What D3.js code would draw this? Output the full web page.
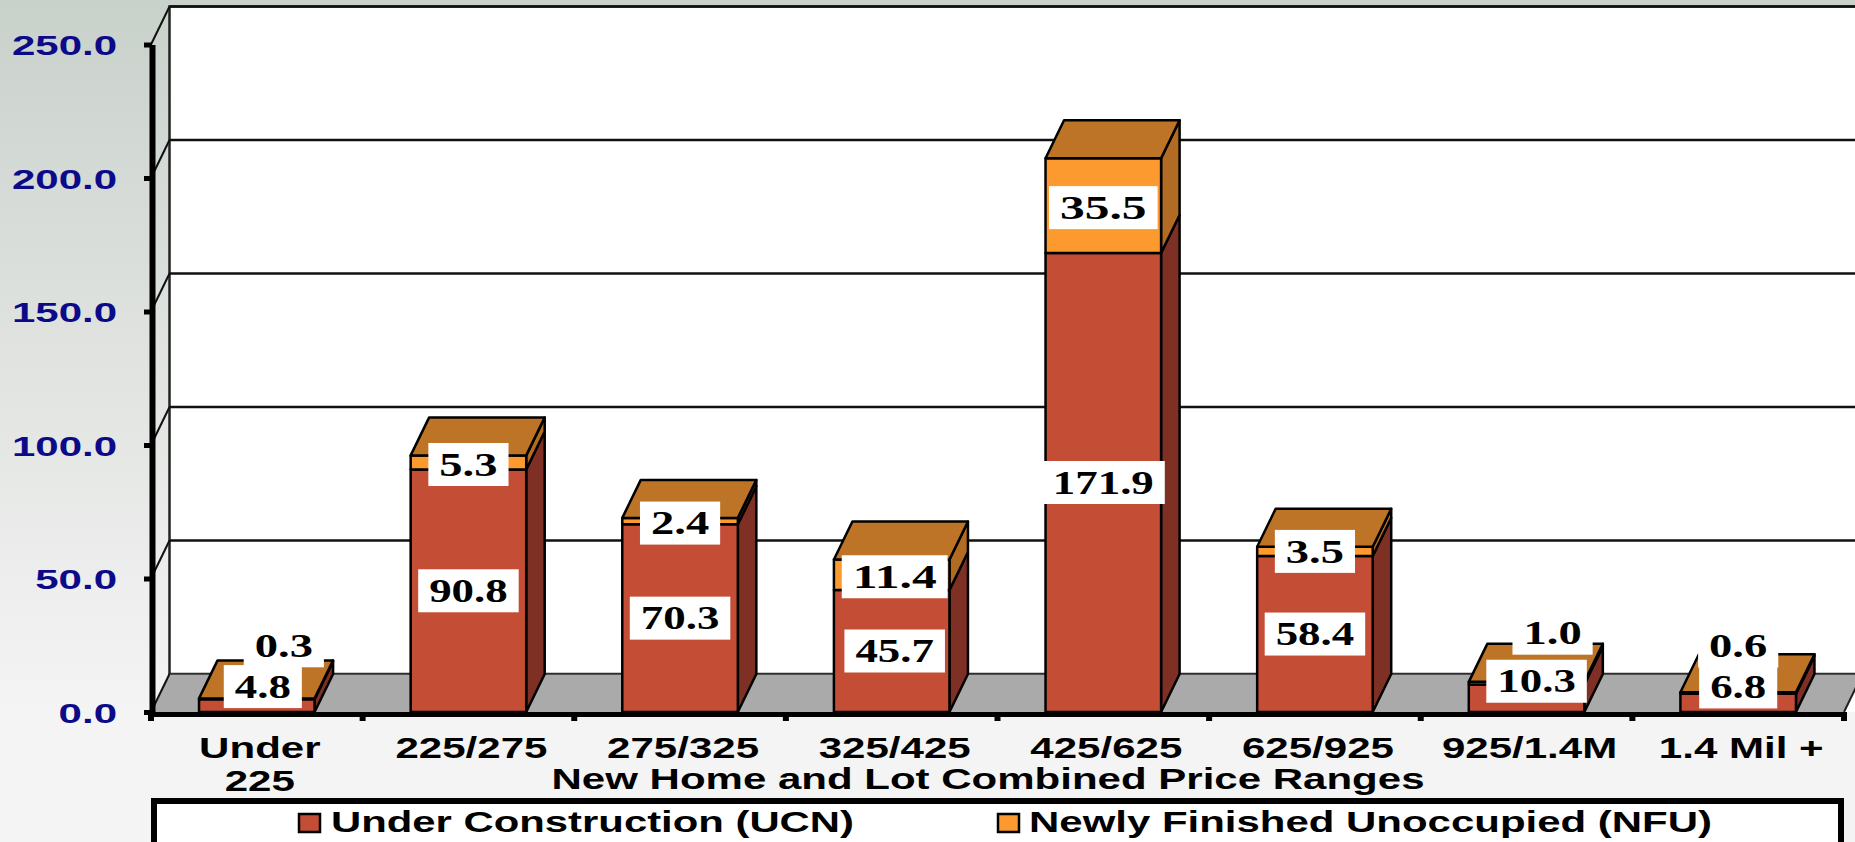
<!DOCTYPE html>
<html lang="en">
<head>
<meta charset="UTF-8">
<title>New Home and Lot Combined Price Ranges</title>
<script src="https://d3js.org/d3.v7.min.js"></script>
<style>
html, body { margin: 0; padding: 0; overflow: hidden; }
svg { display: block; }
text { font-family: "Liberation Sans", Arial, sans-serif; font-weight: bold; fill: #000; }
.y-axis text { fill: #0b0b8a; font-size: 28px; }
.x-axis text { font-size: 29px; }
.value { font-family: "Liberation Serif", "Times New Roman", serif; font-size: 33px; }
</style>
</head>
<body>
<script>
var categories = ["Under\n225", "225/275", "275/325", "325/425", "425/625", "625/925", "925/1.4M", "1.4 Mil +"];
var ucn = [4.8, 90.8, 70.3, 45.7, 171.9, 58.4, 10.3, 6.8];
var nfu = [0.3, 5.3, 2.4, 11.4, 35.5, 3.5, 1.0, 0.6];
var yTicks = [0, 50, 100, 150, 200, 250];

var seriesNames = ["Under Construction (UCN)", "Newly Finished Unoccupied (NFU)"];
var axisTitle = "New Home and Lot Combined Price Ranges";

// label offsets where the original moved a label off its segment
var ucnNudge = [[6, -19], [0, 0], [0, 0], [3, 0], [0, 0], [0, 0], [10, -17], [0, -16]];
var nfuNudge = [[27, -53], [0, 2], [0, 2], [3, 2], [0, 2], [0, 0], [26, -50], [0, -47]];
// some labels are stretched wider than others in the original
var nfuStretch = [1.41, 1.41, 1.41, 1.5, 1.5, 1.41, 1.41, 1.41];

var width = 1855, height = 842;
var left = 151, right = 1844, base = 712, top3d = 44.5;
var dx = 18.5, dy = 38;   // depth of the 3d look

var colors = {
  ucn: {front: "#c44d36", side: "#7f3025"},
  nfu: {front: "#fd9a2f", side: "#b26b23", top: "#bd7426"}
};

var x = d3.scaleBand().domain(categories).range([left, right]).paddingInner(0.454).paddingOuter(0.227);
var y = d3.scaleLinear().domain([0, 250]).range([base, top3d]);

var svg = d3.select("body").append("svg").attr("width", width).attr("height", height);

var grad = svg.append("defs").append("linearGradient")
  .attr("id", "bg").attr("x1", 0).attr("y1", 0).attr("x2", 0).attr("y2", 1);
grad.append("stop").attr("offset", "0%").attr("stop-color", "#c9d1cb");
grad.append("stop").attr("offset", "40%").attr("stop-color", "#dfe2df");
grad.append("stop").attr("offset", "85%").attr("stop-color", "#f4f4f4");
svg.append("rect").attr("width", width).attr("height", height).attr("fill", "url(#bg)");

function poly(pts) { return pts.map(function(p) { return p.join(","); }).join(" "); }

// back wall
svg.append("rect")
  .attr("x", left + dx).attr("y", y(250) - dy)
  .attr("width", width - left).attr("height", base - y(250))
  .attr("fill", "#fff").attr("stroke", "#222").attr("stroke-width", 2.5);

// floor
svg.append("polygon")
  .attr("points", poly([[left, base], [left + dx, base - dy], [right + dx, base - dy], [right, base]]))
  .attr("fill", "#aaa");
svg.append("line")
  .attr("x1", left + dx).attr("x2", width).attr("y1", base - dy).attr("y2", base - dy)
  .attr("stroke", "#333").attr("stroke-width", 1.5);
svg.append("polygon")
  .attr("points", poly([[right + dx, base - dy], [width + 30, base - dy], [width + 30, base], [right, base]]))
  .attr("fill", "#fff");
svg.append("line")
  .attr("x1", right).attr("y1", base).attr("x2", right + dx).attr("y2", base - dy)
  .attr("stroke", "#222").attr("stroke-width", 2);

// grid lines, back wall and left wall
var grid = svg.append("g");
grid.selectAll("line.back").data(yTicks.slice(1)).enter().append("line").attr("class", "back")
  .attr("x1", left + dx).attr("x2", width)
  .attr("y1", function(d) { return y(d) - dy; }).attr("y2", function(d) { return y(d) - dy; })
  .attr("stroke", "#111").attr("stroke-width", 2.5);
grid.selectAll("line.side").data(yTicks).enter().append("line").attr("class", "side")
  .attr("x1", left).attr("x2", left + dx)
  .attr("y1", function(d) { return y(d); }).attr("y2", function(d) { return y(d) - dy; })
  .attr("stroke", "#111").attr("stroke-width", 2);

// bars
var bars = svg.append("g").selectAll("g").data(categories).enter().append("g")
  .attr("stroke", "#000").attr("stroke-width", 2.5).attr("stroke-linejoin", "round");

bars.each(function(c, i) {
  var g = d3.select(this);
  var x0 = x(c), x1 = x0 + x.bandwidth();
  var y0 = y(0), y1 = y(ucn[i]), y2 = y(ucn[i] + nfu[i]);

  g.append("polygon").attr("fill", colors.ucn.side)
    .attr("points", poly([[x1, y0], [x1 + dx, y0 - dy], [x1 + dx, y1 - dy], [x1, y1]]));
  g.append("polygon").attr("fill", colors.nfu.side)
    .attr("points", poly([[x1, y1], [x1 + dx, y1 - dy], [x1 + dx, y2 - dy], [x1, y2]]));
  g.append("rect").attr("fill", colors.ucn.front)
    .attr("x", x0).attr("y", y1).attr("width", x.bandwidth()).attr("height", y0 - y1);
  g.append("rect").attr("fill", colors.nfu.front)
    .attr("x", x0).attr("y", y2).attr("width", x.bandwidth()).attr("height", y1 - y2);
  g.append("polygon").attr("fill", colors.nfu.top)
    .attr("points", poly([[x0, y2], [x0 + dx, y2 - dy], [x1 + dx, y2 - dy], [x1, y2]]));
});

// axes
var yAxis = svg.append("g").attr("class", "y-axis")
  .attr("transform", "translate(" + (left + 1) + ",0)")
  .call(d3.axisLeft(y).tickValues(yTicks).tickFormat(d3.format(".1f")).tickSize(8).tickSizeOuter(0));
yAxis.select(".domain").attr("stroke", "#000").attr("stroke-width", 6);
yAxis.selectAll(".tick line").attr("stroke", "#000").attr("stroke-width", 5);
yAxis.selectAll(".tick text")
  .attr("x", -35 / 1.5).attr("dy", "0.36em")
  .attr("transform", "scale(1.5,1)");

var xAxis = svg.append("g").attr("class", "x-axis")
  .attr("transform", "translate(0," + (base + 2) + ")")
  .call(d3.axisBottom(x).tickSize(0).tickSizeOuter(0));
xAxis.select(".domain").attr("stroke", "#000").attr("stroke-width", 5);
xAxis.selectAll(".tick text").each(function(d) {
  var t = d3.select(this).text(null).attr("y", 44).attr("dy", 0).attr("transform", "translate(3,0) scale(1.45,1)");
  d.split("\n").forEach(function(part, i) {
    t.append("tspan").attr("x", 0).attr("dy", i ? 33 : 0).text(part);
  });
});

// tick marks sit on the band edges, not the centres
var edges = categories.map(function(c) { return x(c) - x.step() * x.paddingInner() / 2; }).concat([right]);
svg.append("g").selectAll("line").data(edges).enter().append("line")
  .attr("x1", function(d) { return d; }).attr("x2", function(d) { return d; })
  .attr("y1", base).attr("y2", base + 9)
  .attr("stroke", "#000").attr("stroke-width", 6);

svg.append("text")
  .attr("x", 988).attr("y", 789).attr("text-anchor", "middle")
  .attr("font-size", 29).attr("textLength", 873).attr("lengthAdjust", "spacingAndGlyphs")
  .text(axisTitle);

// value labels
function addLabel(value, cx, cy, stretch) {
  var g = svg.append("g").attr("transform", "translate(" + cx + "," + cy + ")");
  var box = g.append("rect").attr("fill", "#fff");
  var t = g.append("text").attr("class", "value")
    .attr("text-anchor", "middle").attr("dy", "0.34em")
    .attr("transform", "scale(" + stretch + ",1)")
    .text(d3.format(".1f")(value));
  var w = t.node().getComputedTextLength() * stretch + 22;
  box.attr("x", -w / 2).attr("y", -21.5).attr("width", w).attr("height", 43);
}

categories.forEach(function(c, i) {
  var cx = x(c) + x.bandwidth() / 2;
  addLabel(nfu[i], cx + nfuNudge[i][0], y(ucn[i] + nfu[i] / 2) + nfuNudge[i][1], nfuStretch[i]);
});
categories.forEach(function(c, i) {
  var cx = x(c) + x.bandwidth() / 2;
  addLabel(ucn[i], cx + ucnNudge[i][0], y(ucn[i] / 2) + ucnNudge[i][1], 1.36);
});

// legend
var legend = svg.append("g");
legend.append("rect")
  .attr("x", 154).attr("y", 801).attr("width", 1687).attr("height", 70)
  .attr("fill", "#fff").attr("stroke", "#000").attr("stroke-width", 6);
var legendItems = [
  {name: seriesNames[0], color: colors.ucn.front, sx: 299, tx: 331, tw: 523},
  {name: seriesNames[1], color: colors.nfu.front, sx: 998, tx: 1029, tw: 683}
];
legendItems.forEach(function(d) {
  legend.append("rect")
    .attr("x", d.sx).attr("y", 814).attr("width", 21).attr("height", 18)
    .attr("fill", d.color).attr("stroke", "#000").attr("stroke-width", 2.5);
  legend.append("text")
    .attr("x", d.tx).attr("y", 831.5).attr("font-size", 29)
    .attr("textLength", d.tw).attr("lengthAdjust", "spacingAndGlyphs")
    .text(d.name);
});
</script>
</body>
</html>
